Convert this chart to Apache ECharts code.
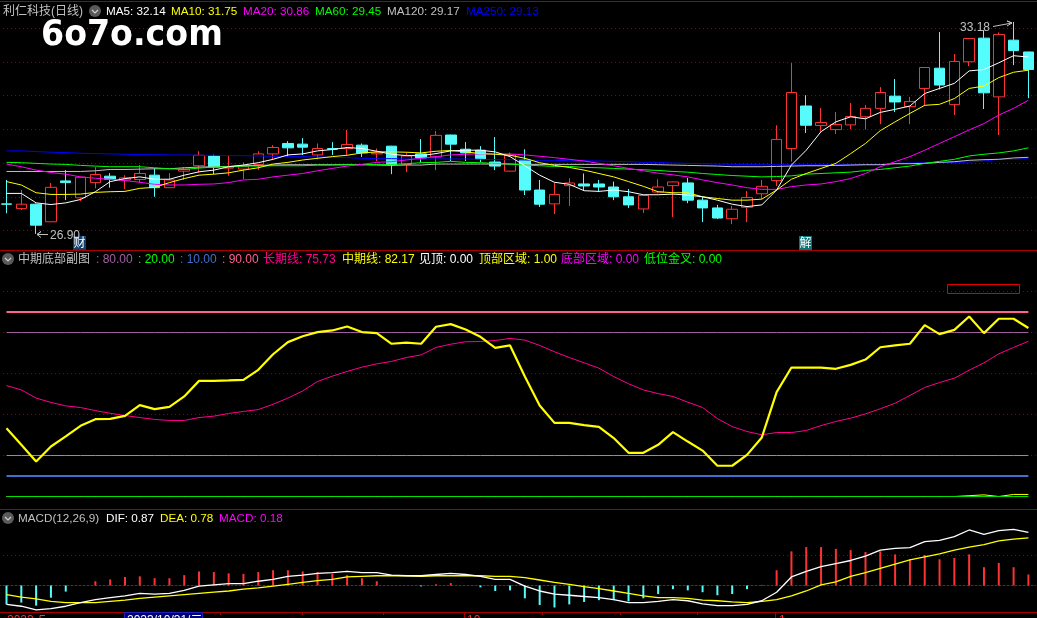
<!DOCTYPE html>
<html>
<head>
<meta charset="utf-8">
<style>html,body{margin:0;padding:0;background:#000;overflow:hidden;width:1037px;height:618px}#c{position:absolute;left:-2px;top:0;width:1039px;height:618px}</style>
<script src="https://cdn.jsdelivr.net/npm/echarts@6/dist/echarts.min.js"></script>
</head>
<body>
<div id="c"></div>
<script>
const days = Array.from({length:70},(_,i)=>'D'+(i+1));
const open = [27.79,27.65,27.78,27.26,28.47,27.97,28.42,28.61,28.50,28.51,
28.64,28.27,28.76,28.92,29.21,28.85,28.82,28.96,29.27,29.58,
29.56,29.24,29.43,29.43,29.53,29.27,29.50,28.96,29.27,29.18,
29.83,29.41,29.38,29.03,28.76,29.09,28.20,27.79,28.33,28.38,
28.38,28.29,28.00,27.64,28.14,28.33,28.41,27.90,27.67,27.35,
27.69,28.09,28.48,29.43,30.69,30.11,29.99,30.13,30.37,30.62,
30.98,30.67,31.21,31.81,30.73,32.00,32.70,30.96,32.64,32.29];
const close = [27.78,27.78,27.16,28.28,28.42,28.58,28.66,28.52,28.56,28.69,
28.27,28.50,28.82,29.23,28.88,28.88,28.89,29.27,29.46,29.45,
29.47,29.43,29.41,29.55,29.30,29.30,28.96,29.21,29.15,29.82,
29.56,29.30,29.12,28.91,29.24,28.20,27.78,28.07,28.41,28.32,
28.29,28.00,27.76,28.04,28.29,28.44,27.90,27.67,27.37,27.63,
27.98,28.31,29.70,31.09,30.12,30.20,30.14,30.38,30.62,31.09,
30.81,30.82,31.83,31.31,32.01,32.69,31.08,32.81,32.33,31.77];
const low = [27.51,27.61,26.90,27.25,27.90,27.87,28.25,28.27,28.23,28.42,
28.00,28.26,28.50,28.72,28.67,28.62,28.52,28.79,29.11,29.19,
29.24,29.11,29.24,29.24,29.18,29.06,28.67,28.73,29.02,28.79,
29.06,29.06,29.02,28.79,28.75,28.05,27.70,27.49,27.73,28.20,
28.15,27.90,27.67,27.52,28.10,27.40,27.81,27.25,27.34,27.19,
27.25,27.93,28.32,29.04,29.89,29.89,29.86,30.00,29.99,30.15,
30.51,30.15,30.69,31.18,30.42,31.87,30.60,29.83,31.90,30.92];
const high = [28.50,28.20,27.80,28.41,28.79,28.59,28.88,28.70,28.64,28.94,
28.85,28.70,28.88,29.35,29.25,29.21,29.02,29.35,29.53,29.65,
29.74,29.58,29.62,29.98,29.58,29.43,29.51,29.32,29.71,29.95,
29.84,29.62,29.50,29.77,29.31,29.41,28.50,28.42,28.55,28.69,
28.50,28.45,28.23,28.05,28.52,28.45,28.56,28.00,27.76,27.73,
28.17,28.50,30.12,31.96,31.01,30.63,30.51,30.78,30.72,31.25,
31.49,30.96,31.84,32.88,32.23,32.70,32.94,32.87,33.18,32.30];
const ma5 = [28.10,28.10,27.82,27.77,27.82,27.92,28.15,28.45,28.54,28.59,
28.52,28.52,28.64,28.74,28.79,28.89,28.94,29.01,29.11,29.24,
29.27,29.36,29.40,29.46,29.43,29.35,29.26,29.22,29.22,29.28,
29.36,29.38,29.38,29.33,29.19,28.92,28.64,28.43,28.37,28.18,
28.16,28.20,28.15,28.06,28.06,28.08,28.05,28.00,27.90,27.78,
27.71,27.76,28.20,28.94,29.38,29.93,30.22,30.37,30.31,30.50,
30.59,30.69,31.06,31.21,31.36,31.73,31.77,31.97,32.18,32.14];
const ma10 = [28.45,28.35,28.12,28.07,28.07,28.08,28.13,28.15,28.16,28.25,
28.28,28.42,28.54,28.64,28.67,28.71,28.79,28.86,28.97,29.02,
29.09,29.14,29.19,29.23,29.30,29.33,29.33,29.32,29.30,29.35,
29.37,29.33,29.28,29.26,29.23,29.14,29.01,28.93,28.87,28.79,
28.69,28.59,28.45,28.31,28.15,28.12,28.12,28.00,27.95,27.90,
27.90,27.93,28.20,28.52,28.69,28.84,28.99,29.28,29.58,29.96,
30.22,30.47,30.71,30.74,30.91,31.21,31.28,31.53,31.69,31.75];
const ma20 = [28.97,28.89,28.79,28.72,28.67,28.59,28.55,28.52,28.48,28.43,
28.37,28.35,28.35,28.37,28.38,28.42,28.50,28.52,28.59,28.64,
28.69,28.77,28.84,28.91,28.96,29.02,29.04,29.09,29.14,29.19,
29.24,29.26,29.27,29.27,29.27,29.24,29.20,29.16,29.11,29.06,
28.99,28.92,28.84,28.77,28.70,28.65,28.59,28.50,28.42,28.35,
28.27,28.22,28.22,28.30,28.35,28.38,28.45,28.54,28.69,28.89,
29.04,29.19,29.38,29.58,29.78,29.98,30.17,30.42,30.62,30.86];
const ma60 = [29.02,29.01,28.99,28.97,28.96,28.93,28.91,28.89,28.89,28.89,
28.86,28.83,28.81,28.85,28.88,28.89,28.91,28.91,28.92,28.92,
28.92,28.94,28.94,28.95,28.95,28.96,28.96,28.98,29.01,29.02,
29.05,29.02,29.01,28.99,28.97,28.94,28.92,28.90,28.90,28.87,
28.86,28.84,28.82,28.80,28.78,28.75,28.73,28.69,28.66,28.63,
28.61,28.59,28.60,28.62,28.67,28.69,28.71,28.73,28.78,28.81,
28.86,28.91,28.99,29.05,29.11,29.21,29.26,29.30,29.36,29.45];
const ma120 = [28.75,28.75,28.75,28.75,28.75,28.75,28.77,28.81,28.81,28.82,
28.83,28.83,28.86,28.88,28.89,28.90,28.92,28.93,28.94,28.95,
28.95,28.95,28.95,28.95,28.95,28.94,28.93,28.94,28.94,28.97,
28.97,28.97,28.97,28.97,28.97,28.96,28.96,28.96,28.96,28.96,
28.96,28.96,28.96,28.96,28.95,28.94,28.93,28.92,28.91,28.89,
28.89,28.89,28.90,28.91,28.92,28.92,28.93,28.94,28.95,28.95,
28.98,28.98,28.99,29.02,29.04,29.08,29.10,29.11,29.15,29.17];
const ma250 = [29.36,29.36,29.34,29.32,29.31,29.29,29.28,29.27,29.26,29.25,
29.25,29.24,29.24,29.23,29.23,29.22,29.22,29.21,29.20,29.19,
29.19,29.18,29.17,29.16,29.14,29.13,29.13,29.12,29.12,29.12,
29.12,29.12,29.11,29.10,29.10,29.09,29.08,29.08,29.07,29.07,
29.06,29.05,29.04,29.02,29.02,29.00,28.99,28.98,28.97,28.96,
28.96,28.95,28.95,28.95,28.95,28.95,28.95,28.95,28.95,28.96,
28.99,29.00,29.01,29.01,29.02,29.03,29.06,29.11,29.11,29.13];
const midLine = [33.3,25.2,17.1,24.4,29.3,34.5,37.7,37.9,39.3,44.6,
42.6,43.7,48.8,56.4,56.4,56.6,56.9,61.8,69.4,75.3,
78.2,80.2,81.0,82.9,80.2,79.7,74.5,75.1,74.5,82.8,
84.1,81.5,77.9,72.5,73.7,58.5,44.4,35.9,35.9,34.8,
34.0,28.5,21.3,21.3,25.2,31.4,26.8,22.4,15.0,15.0,
20.3,28.8,50.9,62.9,62.9,62.9,62.3,64.2,66.8,72.8,
73.7,74.5,83.6,79.2,81.3,87.8,79.7,86.7,86.7,82.17];
const longLine = [54.1,52.0,48.0,45.9,44.2,43.4,41.9,40.6,39.5,38.5,
37.6,37.1,37.1,38.5,39.2,40.5,41.5,42.4,45.0,48.0,
51.5,56.1,58.7,61.0,63.1,64.7,65.9,67.8,69.1,72.7,
74.3,75.5,75.6,76.1,77.1,76.3,73.7,70.6,67.8,65.2,
62.6,58.5,55.0,52.0,50.2,48.8,46.0,43.4,38.0,34.1,
31.7,30.1,31.2,31.2,32.2,34.6,36.6,38.2,40.3,42.8,
45.5,49.3,53.2,55.6,57.7,61.6,65.2,69.6,72.7,75.73];
const topZone = [0,0,0,0,0,0,0,0,0,0,0,0,0,0,0,0,0,0,0,0,0,0,0,0,0,0,0,0,0,0,0,0,0,0,0,0,0,0,0,0,
0,0,0,0,0,0,0,0,0,0,0,0,0,0,0,0,0,0,0,0,0,0,0,0,0,0.4,0.8,0,1,1];
const levelValues = [90, 80, 20, 10, 0];
const macdBars = [-0.31,-0.28,-0.33,-0.20,-0.10,0,0.07,0.10,0.14,0.15,
0.12,0.12,0.17,0.23,0.22,0.20,0.19,0.22,0.25,0.25,
0.23,0.22,0.19,0.17,0.12,0.07,0,0,-0.015,0.02,
0.04,0,-0.03,-0.09,-0.08,-0.21,-0.32,-0.36,-0.31,-0.27,
-0.24,-0.24,-0.26,-0.21,-0.14,-0.06,-0.08,-0.11,-0.16,-0.14,
-0.06,0.01,0.25,0.56,0.63,0.63,0.60,0.58,0.55,0.56,
0.51,0.43,0.50,0.43,0.45,0.51,0.30,0.37,0.30,0.18];
const dif = [-0.31,-0.34,-0.40,-0.38,-0.34,-0.28,-0.23,-0.20,-0.17,-0.13,
-0.14,-0.13,-0.08,-0.01,0.01,0.03,0.03,0.07,0.10,0.15,
0.17,0.20,0.21,0.23,0.21,0.21,0.17,0.16,0.16,0.18,
0.20,0.18,0.15,0.10,0.10,-0.01,-0.09,-0.14,-0.16,-0.18,
-0.20,-0.23,-0.28,-0.28,-0.26,-0.23,-0.25,-0.30,-0.33,-0.33,
-0.31,-0.25,-0.11,0.14,0.23,0.31,0.36,0.41,0.48,0.58,
0.61,0.62,0.72,0.74,0.80,0.91,0.84,0.90,0.92,0.87];
const dea = [-0.15,-0.19,-0.22,-0.26,-0.28,-0.28,-0.28,-0.26,-0.24,-0.21,
-0.19,-0.17,-0.15,-0.13,-0.11,-0.09,-0.06,-0.04,-0.01,0.02,
0.05,0.08,0.10,0.14,0.15,0.16,0.16,0.16,0.15,0.16,
0.16,0.16,0.16,0.15,0.15,0.13,0.09,0.05,0.02,-0.02,
-0.05,-0.09,-0.13,-0.17,-0.20,-0.20,-0.21,-0.24,-0.25,-0.27,
-0.28,-0.26,-0.23,-0.17,-0.09,0.01,0.06,0.15,0.21,0.28,
0.35,0.42,0.47,0.52,0.58,0.63,0.67,0.73,0.76,0.78];

const UP = '#ff3232', DOWN = '#54fcfc', FRAME = '#a80000', GRID = '#a00000';
const FONT = '12px "Liberation Sans","Noto Sans CJK SC",sans-serif';
const FONT_S = '11.7px "Liberation Sans","Noto Sans CJK SC",sans-serif';

const headerTop = [
  ['利仁科技(日线)',3,'#c0c0c0'],['MA5: 32.14',106,'#ffffff'],['MA10: 31.75',171,'#ffff00'],
  ['MA20: 30.86',243,'#ff00ff'],['MA60: 29.45',315,'#00ff00'],['MA120: 29.17',387,'#c0c0c0'],['MA250: 29.13',466,'#0000ff']];
const headerMid = [
  ['中期底部副图',18,'#c0c0c0'],[': 80.00',96,'#a060a0'],[': 20.00',138,'#00ff00'],[': 10.00',180,'#4070d0'],
  [': 90.00',222,'#ff6090'],['长期线: 75.73',263,'#ff0090'],['中期线: 82.17',342,'#ffff00'],['见顶: 0.00',419,'#ffffff'],
  ['顶部区域: 1.00',479,'#ffff00'],['底部区域: 0.00',561,'#ff00ff'],['低位金叉: 0.00',644,'#00ff00']];
const headerLow = [
  ['MACD(12,26,9)',18,'#c0c0c0'],['DIF: 0.87',106,'#ffffff'],['DEA: 0.78',160,'#ffff00'],['MACD: 0.18',219,'#ff00ff']];

function label(s,x,y,fill,font,extra){return {type:'text',silent:true,z:50,style:Object.assign({text:s,x:x,y:y,fill:fill,font:font||FONT,verticalAlign:'middle'},extra||{})};}
function hline(y,color,w){return {type:'line',silent:true,z:40,shape:{x1:0,y1:y,x2:1037,y2:y},style:{stroke:color,lineWidth:w||1}};}
function vtick(x,y1,y2){return {type:'line',silent:true,z:40,shape:{x1:x,y1:y1,x2:x,y2:y2},style:{stroke:FRAME,lineWidth:1}};}
function badge(y){return [
  {type:'circle',silent:true,z:45,shape:{cx:y[0],cy:y[1],r:6},style:{fill:'#5a5a5a'}},
  {type:'polyline',silent:true,z:46,shape:{points:[[y[0]-3,y[1]-1],[y[0],y[1]+2],[y[0]+3,y[1]-1]]},style:{stroke:'#d0d0d0',lineWidth:1.2,fill:'none'}}];}

const graphics = [
  hline(1.5,FRAME,1),hline(250.5,FRAME,1),hline(509.5,FRAME,1),hline(612.5,FRAME,1),
  ...headerTop.map((h,i)=>label(h[0],h[1],11.5,h[2],i?FONT_S:FONT)),
  ...headerMid.map(h=>label(h[0],h[1],260,h[2])),
  ...headerLow.map(h=>label(h[0],h[1],519,h[2],FONT_S)),
  ...badge([95,11]),...badge([8,259]),...badge([8,518]),
  {type:'text',silent:true,z:50,x:41,y:35.5,scaleX:0.95,style:{text:'6o7o.com',x:0,y:0,fill:'#ffffff',font:'bold 35px "DejaVu Sans",sans-serif',verticalAlign:'middle'}},
  // price extremes
  label('26.90',50,236,'#c0c0c0'),
  {type:'polyline',silent:true,z:50,shape:{points:[[48,234.5],[37,234.5],[41,231.5],[37,234.5],[41,237.5]]},style:{stroke:'#c0c0c0',lineWidth:1,fill:'none'}},
  label('33.18',960,28,'#c0c0c0'),
  {type:'polyline',silent:true,z:50,shape:{points:[[993,26.5],[1012,23],[1007,21],[1012,23],[1007,26]]},style:{stroke:'#c0c0c0',lineWidth:1,fill:'none'}},
  // event flags
  {type:'rect',silent:true,z:49,shape:{x:73,y:236,width:13,height:14},style:{fill:'#14406e'}},
  label('财',73.5,243.5,'#ffffff'),
  {type:'rect',silent:true,z:49,shape:{x:799,y:236,width:13,height:14},style:{fill:'#0c7378'}},
  label('解',799.5,243.5,'#ffffff'),
  // signal box
  {type:'rect',silent:true,z:49,shape:{x:947.5,y:284.5,width:72,height:9},style:{fill:'none',stroke:'#e00000',lineWidth:1}},
  // date strip
  label('2023',7,621,'#ff3232'),
  {type:'polyline',silent:true,z:50,shape:{points:[[40,618],[40,615.5],[45,615.5]]},style:{stroke:'#ff3232',lineWidth:1,fill:'none'}},
  {type:'rect',silent:true,z:48,shape:{x:124.5,y:612.5,width:78,height:7},style:{fill:'#000070',stroke:'#2020c0',lineWidth:1}},
  label('2023/10/31/二',127,621,'#ffffff'),
  label('10',467,621,'#ff3232'),label('1',779,621,'#ff3232'),
  ...[220,302,383,542,620,697].map(x=>vtick(x+0.5,612,615)),
  ...[464,775].map(x=>vtick(x+0.5,612,618))
];

const maLine=(name,data,color)=>({name,type:'line',xAxisIndex:0,yAxisIndex:0,data,symbol:'none',silent:true,z:4,lineStyle:{color,width:1}});
const lvl=(v,color,w,z)=>({type:'line',xAxisIndex:1,yAxisIndex:1,data:days.map(()=>v),symbol:'none',silent:true,z:z||2,lineStyle:{color,width:w}});
const splitDot={show:true,showMinLine:false,showMaxLine:false,lineStyle:{color:GRID,type:[1,3],width:1}};
const xA=(i,extra)=>Object.assign({type:'category',gridIndex:i,data:days,boundaryGap:true,axisTick:{show:false},axisLabel:{show:false},axisLine:{show:false},splitLine:{show:false}},extra||{});
const yA=(i,min,max,interval)=>({type:'value',gridIndex:i,min,max,interval,scale:false,axisLabel:{show:false},axisTick:{show:false},axisLine:{show:false},splitLine:splitDot});

const chart = echarts.init(document.getElementById('c'),null,{renderer:'canvas',width:1039,height:618});
chart.setOption({
  backgroundColor:'#000000',animation:false,
  grid:[
    {left:1.1,width:1036.7,top:0,height:264.3},
    {left:1.1,width:1036.7,top:250.5,height:246},
    {left:1.1,width:1036.7,top:524.5,height:91.5}
  ],
  xAxis:[xA(0),xA(1),xA(2,{axisLine:{show:true,onZero:true,lineStyle:{color:'#c00000',type:[2,2],width:1}}})],
  yAxis:[yA(0,26,33.83,1),yA(1,0,120,20),yA(2,-0.5,1,0.5)],
  graphic:{elements:[{type:'group',x:2,y:0,children:graphics}]},
  series:[
    {name:'K',type:'candlestick',xAxisIndex:0,yAxisIndex:0,barWidth:11,silent:true,z:3,
     data:days.map((_,i)=>[open[i],close[i],low[i],high[i]]),
     itemStyle:{color:'#000000',borderColor:UP,color0:DOWN,borderColor0:DOWN,borderWidth:1}},
    maLine('MA250',ma250,'#0000ff'),
    maLine('MA120',ma120,'#c0c0c0'),
    maLine('MA60',ma60,'#00ff00'),
    maLine('MA20',ma20,'#ff00ff'),
    maLine('MA10',ma10,'#ffff00'),
    maLine('MA5',ma5,'#ffffff'),
    lvl(levelValues[0],'#ff6090',2),
    lvl(levelValues[1],'#a060a0',1),
    lvl(levelValues[2],'#20e020',1),
    lvl(levelValues[3],'#4070d0',2),
    lvl(levelValues[4],'#00e000',1,4),
    {name:'顶部区域',type:'line',xAxisIndex:1,yAxisIndex:1,data:topZone,symbol:'none',silent:true,z:3,lineStyle:{color:'#ffff00',width:1}},
    {name:'长期线',type:'line',xAxisIndex:1,yAxisIndex:1,data:longLine,symbol:'none',silent:true,z:4,lineStyle:{color:'#ff0090',width:1}},
    {name:'中期线',type:'line',xAxisIndex:1,yAxisIndex:1,data:midLine,symbol:'none',silent:true,z:5,lineStyle:{color:'#ffff00',width:2.2}},
    {name:'MACD',type:'bar',xAxisIndex:2,yAxisIndex:2,barWidth:2,silent:true,z:3,
     data:macdBars.map(v=>({value:v,itemStyle:{color:v>=0?UP:DOWN}}))},
    {name:'DEA',type:'line',xAxisIndex:2,yAxisIndex:2,data:dea,symbol:'none',silent:true,z:4,lineStyle:{color:'#ffff00',width:1.3}},
    {name:'DIF',type:'line',xAxisIndex:2,yAxisIndex:2,data:dif,symbol:'none',silent:true,z:5,lineStyle:{color:'#ffffff',width:1.3}}
  ]
});
</script>
</body>
</html>
